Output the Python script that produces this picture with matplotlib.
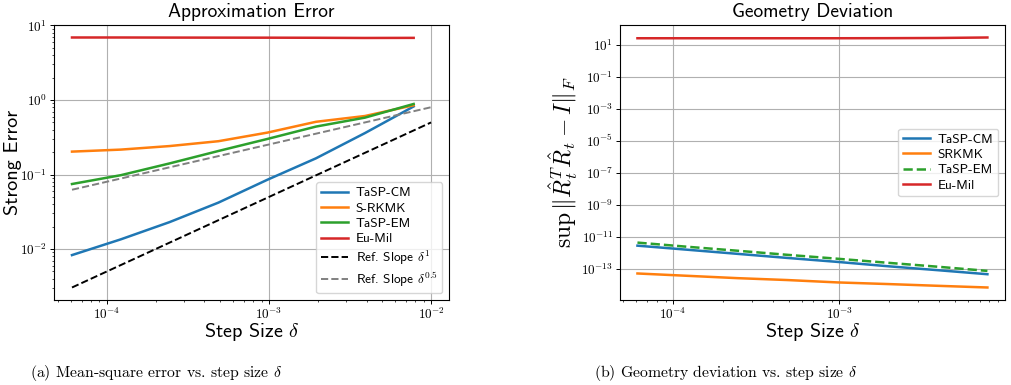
import numpy as np
import matplotlib
matplotlib.use('Agg')
import matplotlib.pyplot as plt

plt.rcParams['font.family'] = 'cmss10'
plt.rcParams['mathtext.fontset'] = 'cm'
plt.rcParams['axes.formatter.use_mathtext'] = True

# step sizes 2^-14 ... 2^-7
step = [6.10e-5, 1.22e-4, 2.44e-4, 4.88e-4, 9.77e-4, 1.95e-3, 3.91e-3, 7.81e-3]

# (a) strong error
err_tasp_cm = [8.3e-3, 0.0135, 0.023, 0.042, 0.085, 0.165, 0.36, 0.82]
err_srkmk = [0.203, 0.216, 0.241, 0.28, 0.365, 0.51, 0.61, 0.85]
err_tasp_em = [0.0746, 0.098, 0.141, 0.207, 0.30, 0.44, 0.58, 0.885]
err_eumil = [6.9, 6.9, 6.88, 6.87, 6.86, 6.84, 6.80, 6.82]
ref_x = [6.10e-5, 1e-2]
ref_slope1 = [3.05e-3, 0.5]
ref_slope05 = [0.0625, 0.8]

# (b) geometry deviation
dev_tasp_cm = [2.7e-12, 1.5e-12, 8.3e-13, 4.6e-13, 2.6e-13, 1.4e-13, 7.9e-14, 4.4e-14]
dev_srkmk = [4.9e-14, 3.5e-14, 2.5e-14, 1.9e-14, 1.35e-14, 1.07e-14, 8.3e-15, 6.5e-15]
dev_tasp_em = [4.2e-12, 2.3e-12, 1.3e-12, 7.2e-13, 4.1e-13, 2.3e-13, 1.3e-13, 7.1e-14]
dev_eumil = [26, 26, 26, 26, 26, 26.3, 27, 29]

lw = 1.8
leg_kw = dict(fontsize=9.6, labelspacing=0.22, borderpad=0.35, handletextpad=0.6,
              handlelength=2.0)
fig = plt.figure(figsize=(10.12, 3.85), dpi=100)

ax1 = fig.add_axes([0.0534, 0.2208, 0.3903, 0.7143])
ax1.loglog(step, err_tasp_cm, color='tab:blue', lw=lw, label='TaSP-CM')
ax1.loglog(step, err_srkmk, color='tab:orange', lw=lw, label='S-RKMK')
ax1.loglog(step, err_tasp_em, color='tab:green', lw=lw, label='TaSP-EM')
ax1.loglog(step, err_eumil, color='tab:red', lw=lw, label='Eu-Mil')
ax1.loglog(ref_x, ref_slope1, 'k--', lw=1.4, label=r'Ref. Slope $\delta^1$')
ax1.loglog(ref_x, ref_slope05, '--', color='gray', lw=1.4, label=r'Ref. Slope $\delta^{0.5}$')
ax1.grid(True)
ax1.set_title('Approximation Error', fontsize=14)
ax1.set_xlabel(r'Step Size $\delta$', fontsize=14.5)
ax1.set_ylabel('Strong Error', fontsize=14.5)
ax1.xaxis.set_label_coords(0.5, -0.075)
ax1.yaxis.set_label_coords(-0.082, 0.5)
ax1.legend(loc='lower right', **leg_kw)

ax2 = fig.add_axes([0.6126, 0.2208, 0.3804, 0.7143])
ax2.loglog(step, dev_tasp_cm, color='tab:blue', lw=lw, label='TaSP-CM')
ax2.loglog(step, dev_srkmk, color='tab:orange', lw=lw, label='SRKMK')
ax2.loglog(step, dev_tasp_em, '--', color='tab:green', lw=lw, label='TaSP-EM')
ax2.loglog(step, dev_eumil, color='tab:red', lw=lw, label='Eu-Mil')
ax2.grid(True)
ax2.set_title('Geometry Deviation', fontsize=14)
ax2.set_xlabel(r'Step Size $\delta$', fontsize=14.5)
ax2.set_ylabel(r'$\sup\,\|\hat{R}_t^T\hat{R}_t - I\|_F$', fontsize=17)
ax2.xaxis.set_label_coords(0.5, -0.075)
ax2.yaxis.set_label_coords(-0.105, 0.5)
ax2.legend(loc='center right', **leg_kw)

for ax in (ax1, ax2):
    for lab in ax.get_xticklabels() + ax.get_yticklabels():
        lab.set_fontfamily('cmr10')
    ax.tick_params(which='major', labelsize=9.5, length=3, width=0.7, pad=2)
    ax.tick_params(which='minor', length=1.5, width=0.5)

fig.text(0.154, 0.022, r'(a) Mean-square error vs. step size $\delta$',
         family='cmr10', fontsize=11.3, ha='center')
fig.text(0.717, 0.022, r'(b) Geometry deviation vs. step size $\delta$',
         family='cmr10', fontsize=11.3, ha='center')

fig.savefig('out.png', dpi=100)
